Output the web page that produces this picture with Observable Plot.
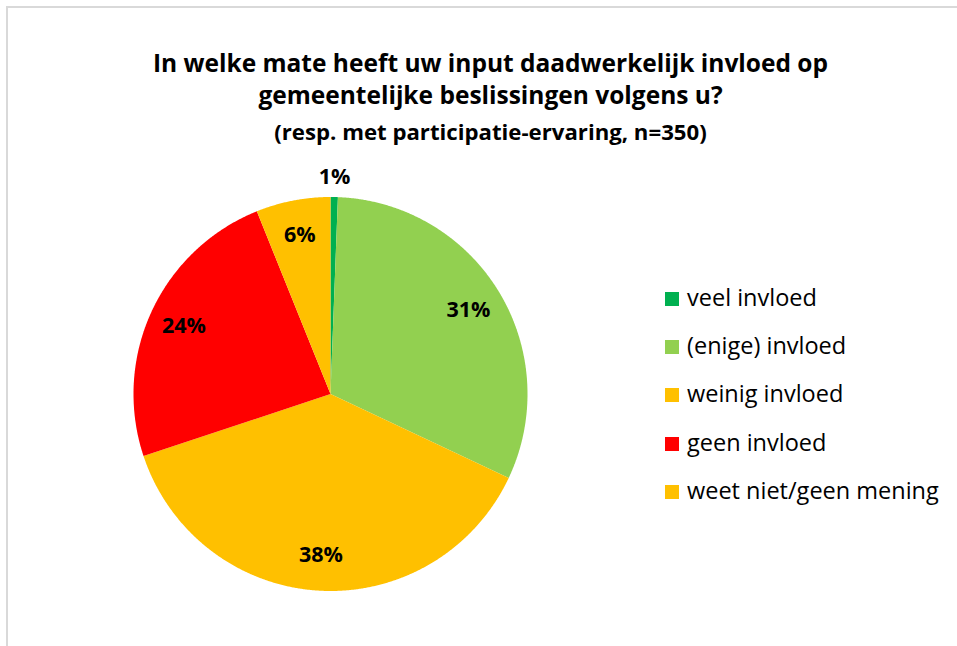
<!DOCTYPE html>
<html>
<head>
<meta charset="utf-8">
<script src="https://cdn.jsdelivr.net/npm/d3@7"></script>
<script src="https://cdn.jsdelivr.net/npm/@observablehq/plot@0.6"></script>
<style>
  html, body { margin: 0; padding: 0; background: #fff; }
  #page { position: relative; width: 957px; height: 646px; overflow: hidden; font-family: "Open Sans", Lato, sans-serif; }
  #frame { position: absolute; left: 6px; top: 6px; width: 960px; height: 660px; border-left: 2px solid #d9d9d9; border-top: 2px solid #d9d9d9; }
  .t { position: absolute; left: 0; width: 981px; text-align: center; font-weight: bold; color: #000; white-space: nowrap; line-height: 1; }
  #t1 { top: 51px; font-size: 24.5px; }
  #t2 { top: 83px; font-size: 24.5px; }
  #t3 { top: 121px; font-size: 22.2px; }
  #chart { position: absolute; left: 0; top: 0; }
  #legend { position: absolute; left: 665px; top: 284px; }
  .li { position: absolute; left: 0; white-space: nowrap; font-size: 23.5px; line-height: 26px; color: #000; }
  .sw { display: inline-block; width: 14px; height: 14px; margin-right: 8px; vertical-align: 0px; }
</style>
</head>
<body>
<div id="page">
  <div id="frame"></div>
  <div class="t" id="t1"></div>
  <div class="t" id="t2"></div>
  <div class="t" id="t3"></div>
  <div id="chart"></div>
  <div id="legend"></div>
</div>
<script>
const titleLines = ["In welke mate heeft uw input daadwerkelijk invloed op", "gemeentelijke beslissingen volgens u?"];
const subtitle = "(resp. met participatie-ervaring, n=350)";
const categories = ["veel invloed", "(enige) invloed", "weinig invloed", "geen invloed", "weet niet/geen mening"];
const values = [0.6, 31.4, 37.9, 24.0, 6.1];
const colors = ["#00b050", "#92d050", "#ffc000", "#ff0000", "#ffc000"];

document.getElementById("t1").textContent = titleLines[0];
document.getElementById("t2").textContent = titleLines[1];
document.getElementById("t3").textContent = subtitle;

const data = categories.map((c, i) => ({key: c, value: values[i]}));
const arcs = d3.pie().value(d => d.value).sort(null)(data);

// polygon points per slice (angle clockwise from 12 o'clock, unit radius)
const pts = [];
for (const a of arcs) {
  const n = Math.max(2, Math.ceil((a.endAngle - a.startAngle) / 0.005));
  pts.push({key: a.data.key, x: 0, y: 0});
  for (let k = 0; k <= n; k++) {
    const t = a.startAngle + (a.endAngle - a.startAngle) * k / n;
    pts.push({key: a.data.key, x: Math.sin(t), y: Math.cos(t)});
  }
  pts.push({key: a.data.key, x: 0, y: 0});
}

const labels = arcs.map(a => {
  const m = (a.startAngle + a.endAngle) / 2;
  const r = a.data.value < 3 ? 1.1 : 0.82;
  return {x: r * Math.sin(m), y: r * Math.cos(m), text: Math.round(a.data.value) + "%"};
});

const chart = Plot.plot({
  width: 957,
  height: 646,
  margin: 0,
  x: {domain: [-1, 1], range: [133, 527], axis: null},
  y: {domain: [-1, 1], range: [590.5, 196.5], axis: null},
  color: {domain: categories, range: colors},
  style: {background: "transparent", overflow: "visible"},
  marks: [
    Plot.line(pts, {x: "x", y: "y", z: "key", fill: "key", stroke: null, curve: "linear"}),
    Plot.text(labels, {x: "x", y: "y", text: "text", fontSize: 21.5, fontWeight: "bold", fill: "#000", fontFamily: "'Open Sans', sans-serif"})
  ]
});
document.getElementById("chart").appendChild(chart);

const legend = document.getElementById("legend");
categories.forEach((c, i) => {
  const row = document.createElement("div");
  row.className = "li";
  row.style.top = (i * 48.2) + "px";
  row.innerHTML = `<span class="sw" style="background:${colors[i]}"></span>`;
  row.appendChild(document.createTextNode(c));
  legend.appendChild(row);
});
</script>
</body>
</html>
